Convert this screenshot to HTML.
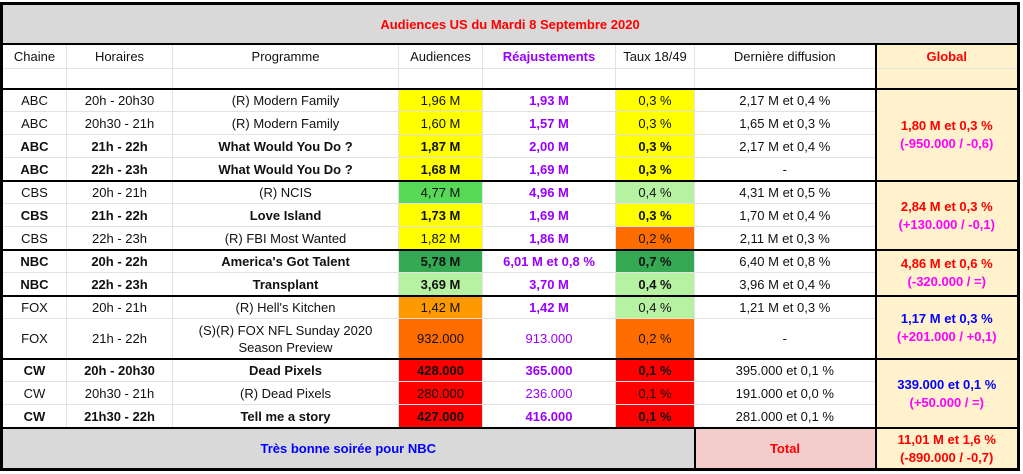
<!DOCTYPE html>
<html><head><meta charset="utf-8"><style>
body{margin:0;background:#fff;width:1023px;height:474px;overflow:hidden;font-family:"Liberation Sans",Arial,sans-serif;}
table{position:absolute;left:0;top:2px;border-collapse:collapse;table-layout:fixed;border:3px solid #000;font-size:13px;}
td{border:1px solid #e2e2e2;text-align:center;vertical-align:middle;padding:0;height:22px;line-height:15px;color:#111;white-space:nowrap;overflow:hidden;}
.t td{border-top:2px solid #000;height:21px;}
.b{font-weight:bold;}
.p{color:#9900ff;font-weight:bold;}
.pn{color:#9900ff;}
.y{background:#ffff00;}.g{background:#57d957;}.lg{background:#b7f2a3;}.dg{background:#34a853;}.o{background:#ff9900;}.oo{background:#ff6d01;}.r{background:#ff0000;}
.gl{background:#fff2cc;border-left:2px solid #000;font-weight:bold;line-height:18px;}
.red{color:#ff0000;}.mag{color:#ff00ff;}.blue{color:#0000ff;}
.e td{height:19px;line-height:10px;}
</style></head><body>
<table>
<colgroup><col style="width:65px"><col style="width:106px"><col style="width:226px"><col style="width:84px"><col style="width:133px"><col style="width:79px"><col style="width:181px"><col style="width:143px"></colgroup>
<tr><td colspan="8" style="height:38px;background:#d9d9d9;color:#ff0000;font-weight:bold;border-bottom:2px solid #000;">Audiences US du Mardi 8 Septembre 2020</td></tr>
<tr><td style="height:23px">Chaine</td><td>Horaires</td><td>Programme</td><td>Audiences</td><td class="p">Réajustements</td><td>Taux 18/49</td><td>Dernière diffusion</td><td class="gl red" style="border-top:none">Global</td></tr>
<tr class="e"><td></td><td></td><td></td><td></td><td></td><td></td><td></td><td class="gl" style="line-height:10px"></td></tr>
<tr class="t"><td>ABC</td><td>20h - 20h30</td><td>(R) Modern Family</td><td class="y">1,96 M</td><td class="p">1,93 M</td><td class="y">0,3 %</td><td>2,17 M et 0,4 %</td><td class="gl" rowspan="4"><span class="red">1,80 M et 0,3 %</span><br><span class="mag">(-950.000 / -0,6)</span></td></tr>
<tr><td>ABC</td><td>20h30 - 21h</td><td>(R) Modern Family</td><td class="y">1,60 M</td><td class="p">1,57 M</td><td class="y">0,3 %</td><td>1,65 M et 0,3 %</td></tr>
<tr class="b"><td>ABC</td><td>21h - 22h</td><td>What Would You Do ?</td><td class="y">1,87 M</td><td class="p">2,00 M</td><td class="y">0,3 %</td><td style="font-weight:normal">2,17 M et 0,4 %</td></tr>
<tr class="b"><td>ABC</td><td>22h - 23h</td><td>What Would You Do ?</td><td class="y">1,68 M</td><td class="p">1,69 M</td><td class="y">0,3 %</td><td style="font-weight:normal">-</td></tr>
<tr class="t"><td>CBS</td><td>20h - 21h</td><td>(R) NCIS</td><td class="g">4,77 M</td><td class="p">4,96 M</td><td class="lg">0,4 %</td><td>4,31 M et 0,5 %</td><td class="gl" rowspan="3"><span class="red">2,84 M et 0,3 %</span><br><span class="mag">(+130.000 / -0,1)</span></td></tr>
<tr class="b"><td>CBS</td><td>21h - 22h</td><td>Love Island</td><td class="y">1,73 M</td><td class="p">1,69 M</td><td class="y">0,3 %</td><td style="font-weight:normal">1,70 M et 0,4 %</td></tr>
<tr><td>CBS</td><td>22h - 23h</td><td>(R) FBI Most Wanted</td><td class="y">1,82 M</td><td class="p">1,86 M</td><td class="oo">0,2 %</td><td>2,11 M et 0,3 %</td></tr>
<tr class="t b"><td>NBC</td><td>20h - 22h</td><td>America's Got Talent</td><td class="dg">5,78 M</td><td class="p">6,01 M et 0,8 %</td><td class="dg">0,7 %</td><td style="font-weight:normal">6,40 M et 0,8 %</td><td class="gl" rowspan="2"><span class="red">4,86 M et 0,6 %</span><br><span class="mag">(-320.000 / =)</span></td></tr>
<tr class="b"><td>NBC</td><td>22h - 23h</td><td>Transplant</td><td class="lg">3,69 M</td><td class="p">3,70 M</td><td class="lg">0,4 %</td><td style="font-weight:normal">3,96 M et 0,4 %</td></tr>
<tr class="t"><td>FOX</td><td>20h - 21h</td><td>(R) Hell's Kitchen</td><td class="o">1,42 M</td><td class="p">1,42 M</td><td class="lg">0,4 %</td><td>1,21 M et 0,3 %</td><td class="gl" rowspan="2"><span class="blue">1,17 M et 0,3 %</span><br><span class="mag">(+201.000 / +0,1)</span></td></tr>
<tr><td style="height:39px">FOX</td><td>21h - 22h</td><td style="line-height:17px">(S)(R) FOX NFL Sunday 2020<br>Season Preview</td><td class="oo">932.000</td><td class="pn">913.000</td><td class="oo">0,2 %</td><td>-</td></tr>
<tr class="t b"><td>CW</td><td>20h - 20h30</td><td>Dead Pixels</td><td class="r">428.000</td><td class="pn">365.000</td><td class="r">0,1 %</td><td style="font-weight:normal">395.000 et 0,1 %</td><td class="gl" rowspan="3"><span class="blue">339.000 et 0,1 %</span><br><span class="mag">(+50.000 / =)</span></td></tr>
<tr><td>CW</td><td>20h30 - 21h</td><td>(R) Dead Pixels</td><td class="r">280.000</td><td class="pn">236.000</td><td class="r">0,1 %</td><td>191.000 et 0,0 %</td></tr>
<tr class="b"><td>CW</td><td>21h30 - 22h</td><td>Tell me a story</td><td class="r">427.000</td><td class="pn">416.000</td><td class="r">0,1 %</td><td style="font-weight:normal">281.000 et 0,1 %</td></tr>
<tr class="t"><td colspan="6" style="height:39px;background:#d9d9d9;color:#0000ff;font-weight:bold;">Très bonne soirée pour NBC</td><td style="background:#f4cccc;color:#ff0000;font-weight:bold;border-left:2px solid #000;">Total</td><td class="gl red" style="line-height:18px">11,01 M et 1,6 %<br>(-890.000 / -0,7)</td></tr>
</table>
</body></html>
